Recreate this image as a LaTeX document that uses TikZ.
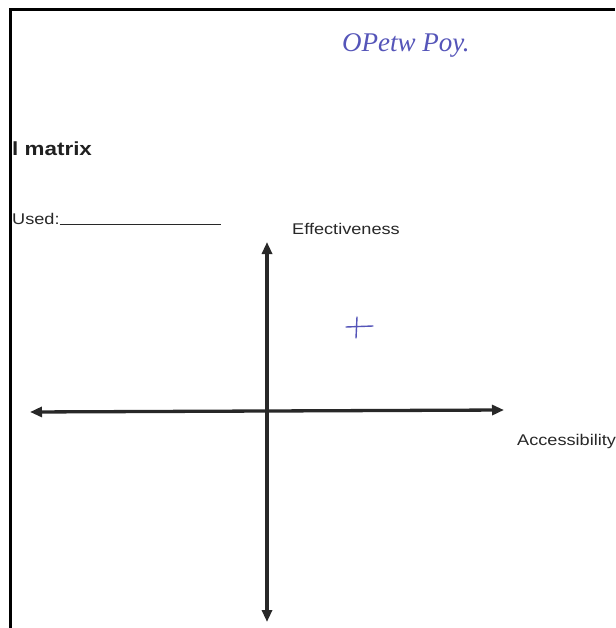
\documentclass[tikz,border=0pt]{standalone}
\usepackage{fontspec}
\setmainfont{Liberation Sans}
\newfontfamily\handfont{Liberation Serif}
\usetikzlibrary{arrows.meta}
\definecolor{inkgray}{RGB}{40,40,40}
\definecolor{penblue}{RGB}{85,85,185}
\tikzset{
  axisline/.style={draw=inkgray, line width=3.3pt, {Triangle[length=12pt,width=10pt]}-{Triangle[length=12pt,width=10pt]}},
  labeltext/.style={inner sep=0pt, text=inkgray, font=\fontsize{15.5}{18}\selectfont, xscale=1.17, transform shape},
  titletext/.style={inner sep=0pt, text=inkgray!80!black, font=\fontsize{19}{22}\selectfont\bfseries, xscale=1.18, transform shape},
  handtext/.style={inner sep=0pt, text=penblue, font=\fontsize{27}{30}\selectfont\handfont\itshape},
  penstroke/.style={draw=penblue, line width=1.4pt, line cap=round},
  frameline/.style={draw=black, line width=3pt}
}
\begin{document}
\begin{tikzpicture}[x=1pt,y=-1pt]
\useasboundingbox (0,0) rectangle (615,628);
\fill[white] (0,0) rectangle (615,628);
% frame
\coordinate (fa) at (615,10);
\coordinate (fb) at (10,10);
\coordinate (fc) at (10,628);
\draw[frameline] (fa) -- (fb) -- (fc);
% axes
\coordinate (top) at (267,242);
\coordinate (bot) at (267,622);
\coordinate (lft) at (30,412);
\coordinate (rgt) at (504,410);
\draw[axisline] (bot) -- (top);
\draw[axisline] (lft) -- (rgt);
% texts
\node[labeltext, anchor=base west] (eff) at (292,234) {Effectiveness};
\node[labeltext, anchor=base west] (acc) at (517,445) {Accessibility};
\node[titletext, anchor=base west] (title) at (12,156) {l matrix};
\node[labeltext, anchor=base west] (used) at (12,224) {Used:\rule[-1pt]{138pt}{0.9pt}};
\node[handtext, anchor=base west] (hand) at (342,52) {OPetw Poy.};
% handwritten plus
\coordinate (ph1) at (346,327);
\coordinate (ph2) at (373,326);
\coordinate (pv1) at (357,317);
\coordinate (pv2) at (356,338);
\draw[penstroke] (ph1) -- (ph2);
\draw[penstroke] (pv1) -- (pv2);
\end{tikzpicture}
\end{document}
